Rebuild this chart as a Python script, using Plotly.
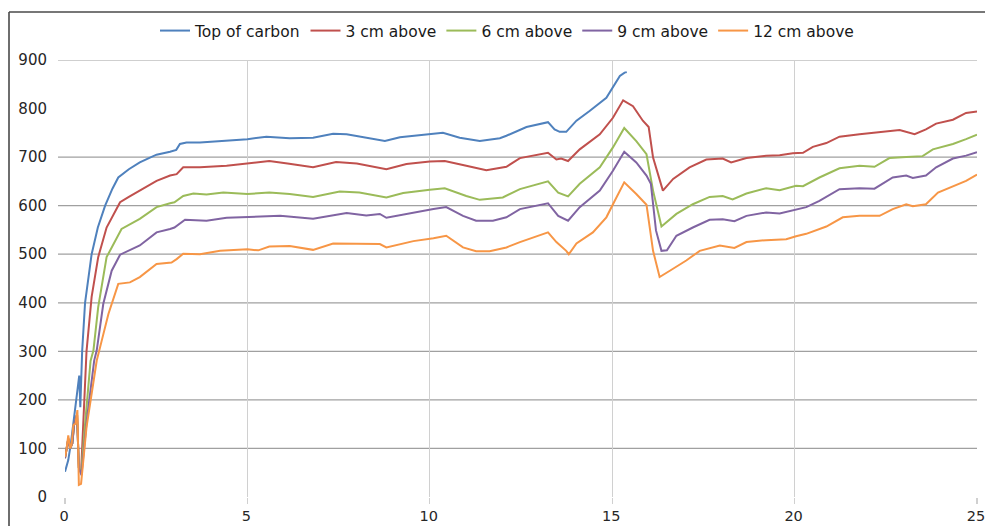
import plotly.graph_objects as go

# ---------------- data ----------------
series_names = ["Top of carbon", "3 cm above", "6 cm above", "9 cm above", "12 cm above"]
series_colors = ["#4F81BD", "#C0504D", "#9BBB59", "#8064A2", "#F79646"]

top_t = [0, 0.09, 0.16, 0.23, 0.29, 0.35, 0.39, 0.42, 0.47, 0.55, 0.73, 0.9, 1.1, 1.3, 1.46, 1.75,
         2.05, 2.3, 2.51, 2.88, 3.05, 3.15, 3.33, 3.7, 4.25, 5.0, 5.52, 6.16, 6.8, 7.35, 7.72, 8.26,
         8.77, 9.18, 10.0, 10.36, 10.82, 11.37, 11.92, 12.1, 12.65, 13.24, 13.42, 13.56, 13.74,
         14.02, 14.38, 14.84, 15.21, 15.34, 15.4]
top_v = [52, 76, 110, 155, 192, 227, 250, 185, 300, 400, 500, 555, 600, 635, 658, 675,
         689, 698, 705, 711, 715, 727, 730, 730, 733, 737, 742, 739, 740, 748, 747, 740,
         733, 741, 748, 750, 740, 733, 739, 744, 762, 772, 757, 752, 752,
         775, 795, 822, 867, 874, 875]

cm3_t = [0, 0.09, 0.14, 0.2, 0.25, 0.33, 0.38, 0.44, 0.5, 0.59, 0.73, 0.91, 1.14, 1.51, 1.75, 2.05,
         2.51, 2.88, 3.06, 3.24, 3.7, 4.43, 5.0, 5.6, 6.1, 6.8, 7.43, 8.0, 8.81, 9.36, 10.0, 10.41,
         11.0, 11.55, 12.1, 12.47, 13.24, 13.47, 13.6, 13.79, 14.11, 14.66, 15.02, 15.3, 15.57,
         15.84, 16.0, 16.12, 16.39, 16.67, 17.12, 17.58, 18.03, 18.26, 18.68, 19.22, 19.59, 19.95,
         20.23, 20.5, 20.87, 21.23, 21.78, 22.33, 22.88, 23.29, 23.6, 23.88, 24.34, 24.7, 25.0]
cm3_v = [80, 120, 100, 110, 150, 170, 60, 50, 150, 300, 412, 494, 555, 607, 618, 631,
         651, 662, 665, 679, 679, 682, 687, 692, 687, 679, 690, 687, 675, 686, 691, 692,
         682, 673, 680, 698, 709, 695, 697, 692, 716, 747, 781, 817, 805,
         775, 762, 699, 631, 655, 679, 695, 697, 689, 698, 703, 704, 708,
         709, 721, 729, 742, 747, 752, 756, 747, 757, 769, 777, 791, 794]

cm6_t = [0, 0.09, 0.14, 0.2, 0.25, 0.33, 0.38, 0.45, 0.55, 0.7, 0.78, 0.91, 1.14, 1.55, 2.05, 2.51,
         2.88, 3.0, 3.24, 3.52, 3.88, 4.34, 5.0, 5.6, 6.16, 6.8, 7.53, 8.07, 8.81, 9.27, 10.0, 10.41,
         11.0, 11.37, 12.0, 12.47, 13.24, 13.52, 13.79, 14.11, 14.66, 15.02, 15.33, 15.66, 15.94,
         16.12, 16.35, 16.76, 17.21, 17.67, 18.03, 18.3, 18.68, 19.22, 19.59, 20.04, 20.23, 20.68,
         21.23, 21.78, 22.19, 22.6, 23.06, 23.51, 23.79, 24.34, 24.7, 25.0]
cm6_v = [80, 120, 100, 110, 150, 170, 60, 55, 150, 280, 302, 391, 494, 552, 573, 597,
         605, 607, 620, 625, 623, 627, 624, 627, 624, 618, 629, 627, 617, 626, 633, 636,
         620, 612, 617, 634, 650, 627, 619, 645, 679, 720, 760, 733, 706,
         631, 557, 583, 603, 618, 620, 613, 625, 636, 632, 641, 640, 658,
         677, 682, 680, 698, 700, 702, 716, 727, 737, 746]

cm9_t = [0, 0.09, 0.14, 0.2, 0.25, 0.33, 0.38, 0.45, 0.6, 0.8, 0.87, 1.05, 1.28, 1.51, 2.05, 2.51,
         2.88, 3.0, 3.29, 3.88, 4.43, 5.0, 5.9, 6.8, 7.72, 8.26, 8.63, 8.81, 9.55, 10.1, 10.45,
         10.91, 11.27, 11.73, 12.1, 12.47, 13.24, 13.52, 13.79, 14.11, 14.66, 15.02, 15.33, 15.66,
         15.94, 16.06, 16.2, 16.35, 16.5, 16.76, 17.21, 17.67, 18.03, 18.35, 18.68, 19.22, 19.59,
         20.04, 20.32, 20.68, 21.23, 21.78, 22.19, 22.69, 23.06, 23.24, 23.6, 23.88, 24.34, 24.7, 25.0]
cm9_v = [80, 120, 100, 110, 150, 170, 60, 45, 160, 281, 302, 398, 466, 499, 518, 545,
         552, 555, 571, 569, 575, 576, 579, 573, 585, 580, 583, 575, 586, 593, 597,
         579, 569, 569, 576, 593, 605, 579, 569, 597, 631, 672, 711, 689,
         662, 645, 549, 507, 508, 538, 555, 571, 572, 568, 579, 586, 584,
         593, 597, 610, 634, 636, 635, 658, 662, 657, 662, 679, 697, 703, 710]

cm12_t = [0, 0.04, 0.09, 0.14, 0.18, 0.23, 0.29, 0.34, 0.38, 0.44, 0.59, 0.73, 0.87, 1.0, 1.19, 1.46,
          1.78, 2.05, 2.51, 2.92, 3.06, 3.24, 3.7, 4.25, 5.0, 5.3, 5.6, 6.16, 6.8, 7.35, 8.0, 8.63,
          8.81, 9.55, 10.1, 10.45, 10.91, 11.27, 11.64, 12.1, 12.47, 13.24, 13.47, 13.74, 13.81,
          14.02, 14.47, 14.84, 15.07, 15.33, 15.66, 15.94, 16.12, 16.3, 16.58, 17.03, 17.4, 17.95,
          18.35, 18.68, 19.22, 19.77, 20.04, 20.32, 20.87, 21.32, 21.78, 22.33, 22.69, 23.06, 23.24,
          23.6, 23.93, 24.34, 24.7, 25.0]
cm12_v = [83, 97, 127, 100, 107, 148, 151, 179, 25, 27, 144, 213, 281, 320, 377, 439,
          442, 453, 480, 483, 490, 501, 500, 507, 510, 508, 516, 517, 509, 522, 521, 521,
          514, 527, 533, 538, 514, 506, 506, 514, 525, 545, 525, 507, 500,
          522, 545, 576, 610, 648, 624, 602, 507, 453, 466, 487, 507, 518,
          513, 525, 529, 531, 537, 542, 557, 576, 579, 579, 593, 603, 599,
          603, 627, 639, 651, 664]

x_ticks = [0, 5, 10, 15, 20, 25]
y_ticks = [0, 100, 200, 300, 400, 500, 600, 700, 800, 900]
# horizontal gridlines visible in the reference (the 800 line is absent there)
y_gridlines = [100, 200, 300, 400, 500, 600, 700, 900]

# ---------------- figure ----------------
W, H = 985, 526
ML, MR, MT, MB = 65, 8, 60, 29
PW, PH = W - ML - MR, H - MT - MB

all_t = [top_t, cm3_t, cm6_t, cm9_t, cm12_t]
all_v = [top_v, cm3_v, cm6_v, cm9_v, cm12_v]

fig = go.Figure()
for name, color, t, v in zip(series_names, series_colors, all_t, all_v):
    fig.add_trace(go.Scatter(x=t, y=v, mode="lines", name=name,
                             line=dict(color=color, width=2)))

shapes = []
for g in y_gridlines:
    shapes.append(dict(type="line", xref="paper", yref="y", x0=-7 / PW, x1=1, y0=g, y1=g,
                       line=dict(color="#a0a0a0", width=1.2), layer="below"))
# outer chart frame (left x=9, top y=12); only top and left sides are visible in the reference
frame_left = (9 - ML) / PW
frame_top = (H - MB - 12) / PH
shapes.append(dict(type="line", xref="paper", yref="paper",
                   x0=frame_left, x1=(W + 20 - ML) / PW, y0=frame_top, y1=frame_top,
                   line=dict(color="#4a4a4a", width=1.6)))
shapes.append(dict(type="line", xref="paper", yref="paper",
                   x0=frame_left, x1=frame_left, y0=frame_top, y1=-(MB + 20) / PH,
                   line=dict(color="#4a4a4a", width=1.6)))

font_family = "DejaVu Sans"
fig.update_layout(
    width=W, height=H,
    margin=dict(l=ML, r=MR, t=MT, b=MB, autoexpand=False),
    paper_bgcolor="white", plot_bgcolor="white",
    font=dict(family=font_family, size=14, color="#262626"),
    showlegend=True,
    legend=dict(orientation="h", x=(507 - ML) / PW, xanchor="center",
                y=(H - MB - 31) / PH, yanchor="middle",
                font=dict(family=font_family, size=15.5, color="#1a1a1a"),
                bgcolor="rgba(0,0,0,0)", itemwidth=30, tracegroupgap=0),
    xaxis=dict(range=[0, 25], tickvals=x_ticks, ticktext=[str(v) for v in x_ticks],
               showgrid=True, gridcolor="#d0d0d0", gridwidth=1.2, zeroline=False,
               showline=False, ticks="outside", ticklen=6, tickcolor="#d0d0d0", tickwidth=1.2,
               tickfont=dict(size=14.5, color="#262626"), ticklabelstandoff=0, ticklabelshift=-1,
               ticklabeloverflow="allow", automargin=False, fixedrange=True),
    yaxis=dict(range=[0, 900], tickvals=y_ticks, ticktext=[str(v) for v in y_ticks],
               showgrid=False, zeroline=False, showline=False, ticks="",
               tickfont=dict(size=15, color="#262626"), ticklabelstandoff=17,
               automargin=False, fixedrange=True),
    shapes=shapes,
)

# remove the default page margin so the 985x526 figure fills the window exactly
page_css = ("document.body.style.margin='0';document.body.style.padding='0';"
            "document.body.style.overflow='hidden';"
            "document.documentElement.style.overflow='hidden';")
fig.write_html("out.html", post_script=page_css,
               config={"displayModeBar": False, "staticPlot": True})
